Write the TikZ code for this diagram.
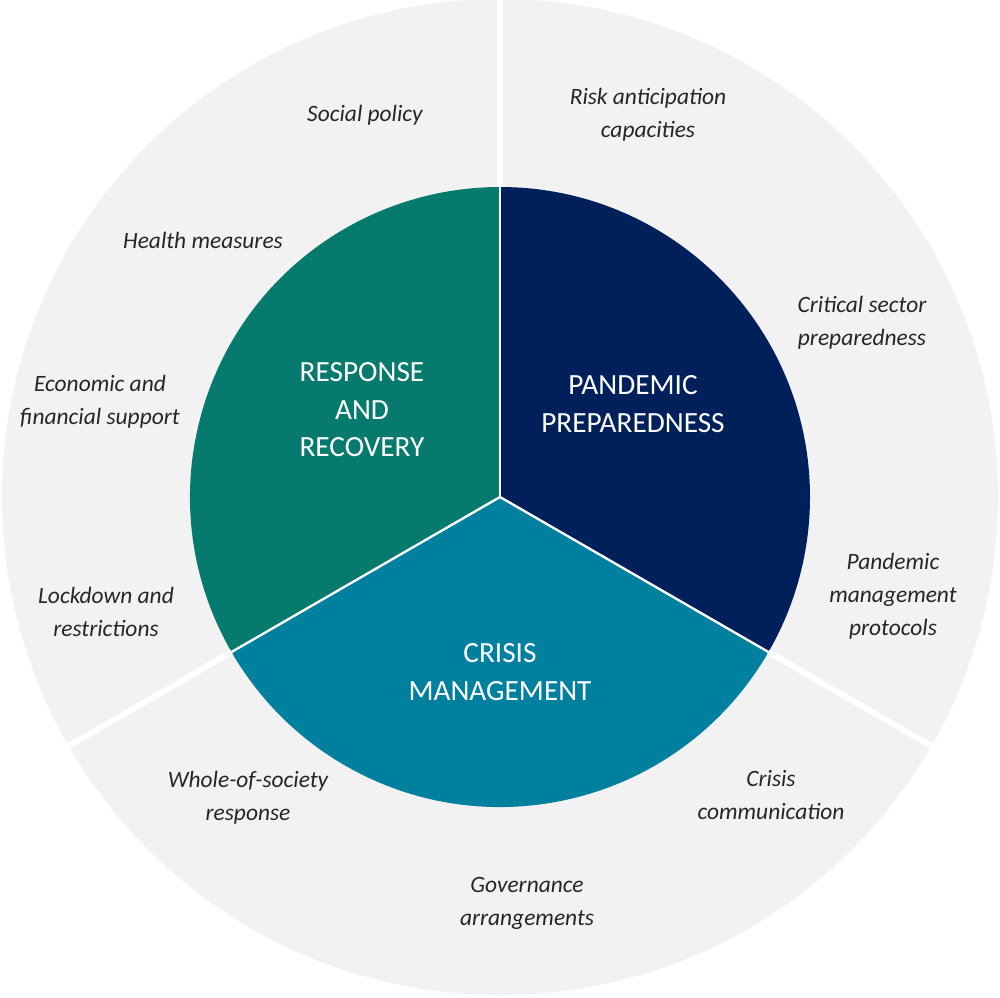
\documentclass[tikz,border=0pt]{standalone}
\usepackage{fontspec}
\setmainfont{Carlito}
\usetikzlibrary{calc}
\definecolor{outerg}{RGB}{242,242,242}
\definecolor{navy}{RGB}{0,32,91}
\definecolor{tealg}{RGB}{7,122,110}
\definecolor{tealb}{RGB}{0,128,159}
\begin{document}
\begin{tikzpicture}[x=0.3mm,y=-0.3mm,
  outer/.style={font=\itshape\fontsize{20}{28}\selectfont,align=center,text=black!85},
  inner/.style={font=\fontsize{25}{32}\selectfont,align=center,text=white},
  sep/.style={white,line width=5pt}]
\useasboundingbox (0,0) rectangle (1000,997);
\coordinate (c) at (500,497);
\fill[outerg] (c) circle[radius=498];
\fill[navy] (c) -- ++(-90:310) arc[start angle=-90,end angle=30,radius=310] -- cycle;
\fill[tealb] (c) -- ++(30:310) arc[start angle=30,end angle=150,radius=310] -- cycle;
\fill[tealg] (c) -- ++(150:310) arc[start angle=150,end angle=270,radius=310] -- cycle;
\foreach \a in {-90,30,150} {
  \draw[white,line width=2pt] (c) -- ++(\a:310);
  \draw[sep] ($(c)+(\a:310)$) -- ($(c)+(\a:510)$);
}
\node[outer] (sp) at (365,115) {Social policy};
\node[outer] (ra) at (648,115) {Risk anticipation\\capacities};
\node[outer] (hm) at (203,240) {Health measures};
\node[outer] (cs) at (862,323) {Critical sector\\preparedness};
\node[outer] (ef) at (100,402) {Economic and\\financial support};
\node[outer] (pm) at (893,596) {Pandemic\\management\\protocols};
\node[outer] (lr) at (106,612) {Lockdown and\\restrictions};
\node[outer] (cc) at (771,795) {Crisis\\communication};
\node[outer] (ws) at (248,798) {Whole-of-society\\response};
\node[outer] (ga) at (527,903) {Governance\\arrangements};
\node[inner] (rr) at (362,410) {RESPONSE\\AND\\RECOVERY};
\node[inner] (pp) at (633,404) {PANDEMIC\\PREPAREDNESS};
\node[inner] (cm) at (500,672) {CRISIS\\MANAGEMENT};
\end{tikzpicture}
\end{document}
